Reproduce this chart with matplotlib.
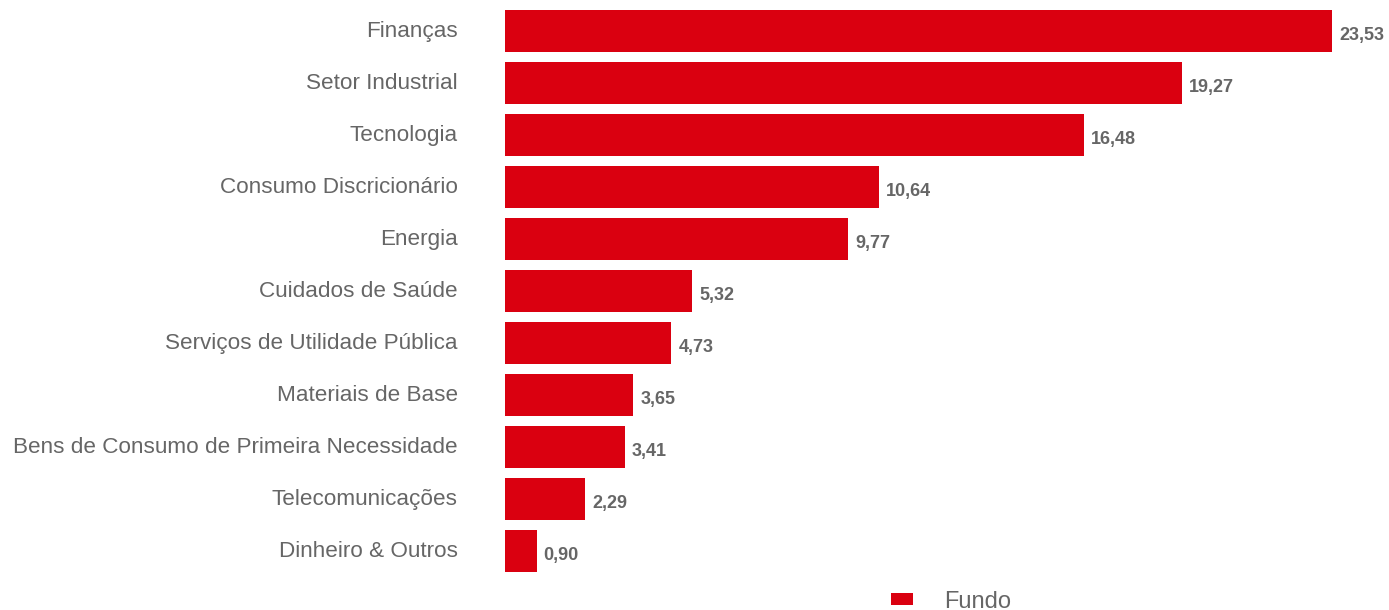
import matplotlib.pyplot as plt
import matplotlib.transforms as mtrans

# sector weights of the fund (%)
sectors = ["Finanças", "Setor Industrial", "Tecnologia", "Consumo Discricionário",
           "Energia", "Cuidados de Saúde", "Serviços de Utilidade Pública",
           "Materiais de Base", "Bens de Consumo de Primeira Necessidade",
           "Telecomunicações", "Dinheiro & Outros"]
weights = [23.53, 19.27, 16.48, 10.64, 9.77, 5.32, 4.73, 3.65, 3.41, 2.29, 0.90]
series_name = "Fundo"

RED = "#da0010"
GREY = "#666666"

plt.rcParams['font.family'] = ['Liberation Sans', 'DejaVu Sans']

fig = plt.figure(figsize=(13.89, 6.10), dpi=100)
ax = fig.add_axes([505 / 1389, 0, 884 / 1389, 1])

pos = list(range(len(sectors)))
bars = ax.barh(pos, weights, height=0.81, color=RED, label=series_name)

ax.set_xlim(0, 884 / 35.15)
ax.set_ylim(10 + 59 / 52, -31 / 52)

ax.set_yticks(pos)
ax.set_yticklabels(sectors, fontsize=16.2, color=GREY)
ax.tick_params(axis='y', length=0, pad=34)
# nudge category labels up a little
shift = mtrans.ScaledTranslation(0, 2 / 100, fig.dpi_scale_trans)
for lab in ax.get_yticklabels():
    lab.set_transform(lab.get_transform() + shift)
ax.set_xticks([])
for s in ax.spines.values():
    s.set_visible(False)

for b, v in zip(bars, weights):
    ax.text(b.get_width() + 0.2, b.get_y() + b.get_height() / 2 + 0.09,
            "{:.2f}".format(v).replace(".", ","),
            va='center', ha='left', fontsize=13, color=GREY, fontweight='bold')

fig.legend(handles=[bars], labels=[series_name], loc='center left',
           bbox_to_anchor=(891 / 1389, 1 - 601.5 / 610), frameon=False,
           borderpad=0, borderaxespad=0,
           fontsize=17, labelcolor=GREY, handlelength=0.93, handleheight=0.4,
           handletextpad=1.3)

fig.savefig("out.png", dpi=100)
